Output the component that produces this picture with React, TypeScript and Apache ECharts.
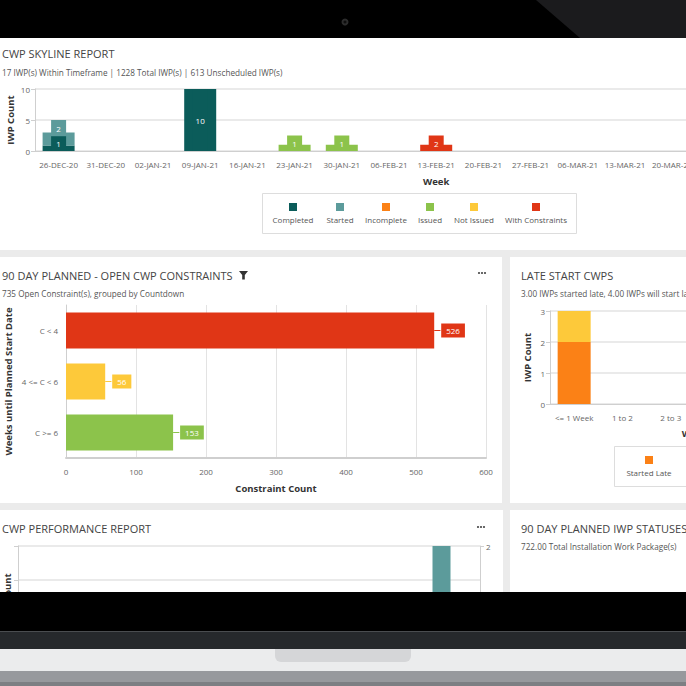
import React, { useEffect, useRef } from "react";
import * as echarts from "echarts";

// ---------- data ----------
const weeks = [
  "26-DEC-20", "31-DEC-20", "02-JAN-21", "09-JAN-21", "16-JAN-21", "23-JAN-21",
  "30-JAN-21", "06-FEB-21", "13-FEB-21", "20-FEB-21", "27-FEB-21", "06-MAR-21",
  "13-MAR-21", "20-MAR-21", "27-MAR-21", "03-APR-21", "10-APR-21",
];
const statusNames = ["Completed", "Started", "Incomplete", "Issued", "Not Issued", "With Constraints"];
const statusColors = ["#0b5c5a", "#5c9b9b", "#fb8116", "#8cc34b", "#fdc93a", "#e03616"];

// IWP counts shown as labels
const completedCount = [1, 0, 0, 10, 0, 0, 0, 0, 0, 0, 0, 0, 0, 0, 0, 0, 0];
const startedCount = [2, 0, 0, 0, 0, 0, 0, 0, 0, 0, 0, 0, 0, 0, 0, 0, 0];
const incompleteCount = [0, 0, 0, 0, 0, 0, 0, 0, 0, 0, 0, 0, 0, 0, 0, 0, 0];
const issuedCount = [0, 0, 0, 0, 0, 1, 1, 0, 0, 0, 0, 0, 0, 0, 0, 0, 0];
const notIssuedCount = [0, 0, 0, 0, 0, 0, 0, 0, 0, 0, 0, 0, 0, 0, 0, 0, 0];
const constraintsCount = [0, 0, 0, 0, 0, 0, 0, 0, 2, 0, 0, 0, 0, 0, 0, 0, 0];

// skyline heights: wide (outer) and narrow (inner) blocks
const completedOuter = [0.9, 0, 0, 10, 0, 0, 0, 0, 0, 0, 0, 0, 0, 0, 0, 0, 0];
const completedInner = [2.4, 0, 0, 10, 0, 0, 0, 0, 0, 0, 0, 0, 0, 0, 0, 0, 0];
const startedOuter = [2.1, 0, 0, 0, 0, 0, 0, 0, 0, 0, 0, 0, 0, 0, 0, 0, 0];
const startedInner = [2.6, 0, 0, 0, 0, 0, 0, 0, 0, 0, 0, 0, 0, 0, 0, 0, 0];
const incompleteOuter = [0, 0, 0, 0, 0, 0, 0, 0, 0, 0, 0, 0, 0, 0, 0, 0, 0];
const incompleteInner = [0, 0, 0, 0, 0, 0, 0, 0, 0, 0, 0, 0, 0, 0, 0, 0, 0];
const issuedOuter = [0, 0, 0, 0, 0, 1, 1, 0, 0, 0, 0, 0, 0, 0, 0, 0, 0];
const issuedInner = [0, 0, 0, 0, 0, 2.5, 2.5, 0, 0, 0, 0, 0, 0, 0, 0, 0, 0];
const notIssuedOuter = [0, 0, 0, 0, 0, 0, 0, 0, 0, 0, 0, 0, 0, 0, 0, 0, 0];
const notIssuedInner = [0, 0, 0, 0, 0, 0, 0, 0, 0, 0, 0, 0, 0, 0, 0, 0, 0];
const constraintsOuter = [0, 0, 0, 0, 0, 0, 0, 0, 1, 0, 0, 0, 0, 0, 0, 0, 0];
const constraintsInner = [0, 0, 0, 0, 0, 0, 0, 0, 2.5, 0, 0, 0, 0, 0, 0, 0, 0];

const skylineTicks = [0, 5, 10];

const constraintCats = ["C < 4", "4 <= C < 6", "C >= 6"];
const constraintValues = [526, 56, 153];
const constraintColors = ["#e03616", "#fdc93a", "#8cc34b"];

const lateCats = ["<= 1 Week", "1 to 2", "2 to 3", "3 to 4", "4 to 5", "5 to 6"];
const startedLate = [2, 0, 0, 0, 0, 0];
const willStartLate = [1, 0, 0, 0, 0, 0];
const lateNames = ["Started Late", "Will Start Late"];
const lateColors = ["#fb8116", "#fdc93a"];

const perfCats = ["P1", "P2", "P3", "P4", "P5", "P6"];
const perfValues = [0, 0, 0, 0, 0, 2];

const FONT = '"Open Sans", "Noto Sans", sans-serif';
const AXIS_LABEL = { fontSize: 8, color: "#666", fontFamily: FONT };
const AXIS_NAME = { fontSize: 9.5, color: "#333", fontWeight: "bold", fontFamily: FONT };
const LINE = { lineStyle: { color: "#cfcfcf" } };

function txt(text: string, x: number, y: number, size: number, color: string, extra: any = {}) {
  return {
    type: "text",
    z: 5,
    style: {
      text, x, y, fill: color, fontSize: size, fontFamily: FONT,
      textVerticalAlign: "middle", textAlign: "left", ...extra,
    },
  };
}

export default function App() {
  const ref = useRef<HTMLDivElement>(null);
  useEffect(() => {
    if (!ref.current) return;
    const chart = echarts.init(ref.current, null, { renderer: "svg" });

    const outer = [completedOuter, startedOuter, incompleteOuter, issuedOuter, notIssuedOuter, constraintsOuter];
    const inner = [completedInner, startedInner, incompleteInner, issuedInner, notIssuedInner, constraintsInner];
    const counts = [completedCount, startedCount, incompleteCount, issuedCount, notIssuedCount, constraintsCount];

    const series: any[] = [];
    statusNames.forEach((n, i) => {
      series.push({
        name: n, type: "bar", xAxisIndex: 0, yAxisIndex: 0, stack: "outer",
        barWidth: 32, data: outer[i], itemStyle: { color: statusColors[i] }, z: 2,
      });
    });
    statusNames.forEach((n, i) => {
      series.push({
        name: n, type: "bar", xAxisIndex: 1, yAxisIndex: 0, stack: "inner",
        barWidth: 15, data: inner[i], itemStyle: { color: statusColors[i] }, z: 3,
        label: {
          show: true, position: "inside", color: "#fff", fontSize: 8, fontFamily: FONT,
          formatter: (p: any) => (counts[i][p.dataIndex] ? String(counts[i][p.dataIndex]) : ""),
        },
      });
    });

    series.push({
      type: "bar", xAxisIndex: 2, yAxisIndex: 1, barWidth: 36,
      data: constraintValues.map((v, i) => ({
        value: v,
        itemStyle: { color: constraintColors[i] },
        label: {
          rich: {
            l: { width: 7, height: 1, backgroundColor: constraintColors[i], fontSize: 1 },
            b: {
              backgroundColor: constraintColors[i], color: "#fff", fontSize: 8, fontFamily: FONT,
              padding: [3, 5, 3, 5], borderColor: "rgba(255,255,255,0.7)", borderWidth: 1,
            },
          },
        },
      })),
      label: {
        show: true, position: "right", distance: 0,
        formatter: (p: any) => `{l| }{b|${p.value}}`,
      },
    });

    series.push({
      name: lateNames[0], type: "bar", xAxisIndex: 3, yAxisIndex: 2, stack: "late",
      barWidth: 33, data: startedLate, itemStyle: { color: lateColors[0] },
    });
    series.push({
      name: lateNames[1], type: "bar", xAxisIndex: 3, yAxisIndex: 2, stack: "late",
      barWidth: 33, data: willStartLate, itemStyle: { color: lateColors[1] },
    });

    series.push({
      type: "bar", xAxisIndex: 4, yAxisIndex: 4, barWidth: 18,
      data: perfValues, itemStyle: { color: "#5c9b9b" },
    });

    // graphics
    const panels = [
      [0, 38, 686, 212],
      [0, 257, 502, 246],
      [510, 257, 176, 246],
      [0, 510, 503, 100],
      [510, 510, 176, 100],
    ];
    const graphic: any[] = panels.map((p) => ({
      type: "rect", z: -10, shape: { x: p[0], y: p[1], width: p[2], height: p[3] },
      style: { fill: "#ffffff" },
    }));

    // skyline legend
    const legendX = [293, 340, 386, 430, 474, 536];
    graphic.push({
      type: "rect", z: 5, shape: { x: 262.5, y: 193.5, width: 314, height: 40 },
      style: { fill: "#fff", stroke: "#dddddd", lineWidth: 1 },
    });
    statusNames.forEach((n, i) => {
      graphic.push({
        type: "rect", z: 6, shape: { x: legendX[i] - 4, y: 203, width: 8, height: 8 },
        style: { fill: statusColors[i] },
      });
      graphic.push(txt(n, legendX[i], 219.5, 8, "#555", { textAlign: "center" }));
    });

    // late start legend
    const lateLegendX = [649, 712];
    graphic.push({
      type: "rect", z: 5, shape: { x: 614.5, y: 446.5, width: 200, height: 40 },
      style: { fill: "#fff", stroke: "#dddddd", lineWidth: 1 },
    });
    lateNames.forEach((n, i) => {
      graphic.push({
        type: "rect", z: 6, shape: { x: lateLegendX[i] - 4, y: 456, width: 8, height: 8 },
        style: { fill: lateColors[i] },
      });
      graphic.push(txt(n, lateLegendX[i], 472, 8, "#555", { textAlign: "center" }));
    });

    // titles
    graphic.push(txt("CWP SKYLINE REPORT", 2, 53.5, 11, "#444"));
    graphic.push(txt("17 IWP(s) Within Timeframe | 1228 Total IWP(s) | 613 Unscheduled IWP(s)", 2, 72.5, 8.2, "#555"));
    graphic.push(txt("90 DAY PLANNED - OPEN CWP CONSTRAINTS", 2, 275, 11, "#444"));
    graphic.push({
      type: "polygon", z: 6,
      shape: { points: [[239, 271], [248, 271], [244.8, 275], [244.8, 279.5], [242.2, 279.5], [242.2, 275]] },
      style: { fill: "#333" },
    });
    graphic.push(txt("735 Open Constraint(s), grouped by Countdown", 2, 293, 8.2, "#555"));
    graphic.push(txt("LATE START CWPS", 521, 275, 11, "#444"));
    graphic.push(txt("3.00 IWPs started late, 4.00 IWPs will start late in the next weeks", 521, 293, 8.2, "#555"));
    graphic.push(txt("CWP PERFORMANCE REPORT", 2, 528, 11, "#444"));
    graphic.push(txt("90 DAY PLANNED IWP STATUSES", 521, 528, 11, "#444"));
    graphic.push(txt("722.00 Total Installation Work Package(s)", 521, 546.5, 8.2, "#555"));
    [[482, 273], [481, 527]].forEach(([cx, cy]) => {
      [-3, 0, 3].forEach((d) => {
        graphic.push({ type: "circle", z: 6, shape: { cx: cx + d, cy, r: 1.1 }, style: { fill: "#555" } });
      });
    });

    // laptop bezel
    graphic.push({ type: "rect", z: 100, shape: { x: 0, y: 0, width: 686, height: 38 }, style: { fill: "#000" } });
    graphic.push({
      type: "polygon", z: 101,
      shape: { points: [[536, 0], [686, 0], [686, 38], [580, 38]] },
      style: { fill: "#1b1b1d" },
    });
    graphic.push({ type: "circle", z: 102, shape: { cx: 345, cy: 22, r: 3.5 }, style: { fill: "#2c2c2c" } });
    graphic.push({ type: "circle", z: 103, shape: { cx: 345, cy: 22, r: 1.5 }, style: { fill: "#0e0e0e" } });
    graphic.push({ type: "rect", z: 100, shape: { x: 0, y: 592, width: 686, height: 39 }, style: { fill: "#000" } });
    graphic.push({ type: "rect", z: 100, shape: { x: 0, y: 631, width: 686, height: 18 }, style: { fill: "#26292c" } });
    graphic.push({ type: "rect", z: 101, shape: { x: 0, y: 631, width: 686, height: 1 }, style: { fill: "#4a4d50" } });
    graphic.push({ type: "rect", z: 100, shape: { x: 0, y: 649, width: 686, height: 22 }, style: { fill: "#ebeced" } });
    graphic.push({
      type: "rect", z: 101, shape: { x: 275, y: 649, width: 136, height: 13, r: [0, 0, 6, 6] },
      style: { fill: "#d5d6d8" },
    });
    graphic.push({ type: "rect", z: 100, shape: { x: 0, y: 671, width: 686, height: 15 }, style: { fill: "#97999d" } });
    graphic.push({ type: "rect", z: 101, shape: { x: 0, y: 682, width: 686, height: 4 }, style: { fill: "#7d7f83" } });

    const G = { outerBoundsMode: "none", containLabel: false };
    const N = { nameLocation: "middle", nameMoveOverlap: false, nameTextStyle: AXIS_NAME };
    const option: any = {
      animation: false,
      textStyle: { fontFamily: FONT },
      grid: [
        { ...G, left: 35, top: 89, width: weeks.length * 47.2, height: 62 },
        { ...G, left: 66, top: 305, width: 420, height: 153 },
        { ...G, left: 550, top: 311, width: lateCats.length * 48.3, height: 93 },
        { ...G, left: 18, top: 546, width: 462, height: 136 },
      ],
      xAxis: [
        {
          type: "category", gridIndex: 0, data: weeks,
          axisLine: LINE, axisTick: { lineStyle: { color: "#cfcfcf" }, length: 4 },
          axisLabel: { ...AXIS_LABEL, interval: 0, margin: 9 },
          name: "Week", ...N, nameGap: 25,
        },
        { type: "category", gridIndex: 0, data: weeks, show: false },
        {
          type: "value", gridIndex: 1, min: 0, max: 600, interval: 100,
          axisLine: { show: true, lineStyle: { color: "#cfcfcf", width: 2 } },
          axisTick: { show: false },
          splitLine: { lineStyle: { color: "#e3e3e3" } },
          axisLabel: { ...AXIS_LABEL, margin: 9 },
          name: "Constraint Count", ...N, nameGap: 25,
        },
        {
          type: "category", gridIndex: 2, data: lateCats,
          axisLine: LINE, axisTick: { lineStyle: { color: "#cfcfcf" }, length: 4 },
          axisLabel: { ...AXIS_LABEL, interval: 0, margin: 9 },
          name: "Week", ...N, nameGap: 24,
        },
        {
          type: "category", gridIndex: 3, data: perfCats,
          axisLine: LINE, axisTick: { show: false }, axisLabel: { show: false },
        },
      ],
      yAxis: [
        {
          type: "value", gridIndex: 0, min: skylineTicks[0], max: skylineTicks[2], interval: skylineTicks[1],
          axisLine: { show: true, lineStyle: { color: "#cfcfcf" } },
          axisTick: { show: true, length: 4, lineStyle: { color: "#cfcfcf" } },
          splitLine: { lineStyle: { color: "#e3e3e3", width: 1.5 } },
          axisLabel: { ...AXIS_LABEL, margin: 5 },
          name: "IWP Count", ...N, nameGap: 20,
        },
        {
          type: "category", gridIndex: 1, data: constraintCats, inverse: true,
          axisLine: LINE, axisTick: { length: 4, lineStyle: { color: "#cfcfcf" } },
          axisLabel: { ...AXIS_LABEL, margin: 8 },
          name: "Weeks until Planned Start Date", ...N, nameGap: 53,
        },
        {
          type: "value", gridIndex: 2, min: 0, max: 3, interval: 1,
          axisLine: { show: true, lineStyle: { color: "#cfcfcf" } },
          axisTick: { show: true, length: 4, lineStyle: { color: "#cfcfcf" } },
          splitLine: { lineStyle: { color: "#e3e3e3", width: 1.5 } },
          axisLabel: { ...AXIS_LABEL, margin: 5 },
          name: "IWP Count", ...N, nameGap: 18,
        },
        {
          type: "value", gridIndex: 3, min: 0, max: 4, interval: 1, position: "left",
          axisLine: { show: true, lineStyle: { color: "#cfcfcf" } },
          axisTick: { show: true, length: 4, lineStyle: { color: "#cfcfcf" } },
          splitLine: { lineStyle: { color: "#e3e3e3", width: 1.5 } },
          axisLabel: { show: false },
          name: "Constraint Count", ...N, nameGap: 6,
        },
        {
          type: "value", gridIndex: 3, min: 0, max: 2, interval: 1, position: "right",
          axisLine: { show: true, lineStyle: { color: "#cfcfcf" } },
          axisTick: { show: true, length: 4, lineStyle: { color: "#cfcfcf" } },
          splitLine: { show: false },
          axisLabel: { ...AXIS_LABEL, margin: 6 },
        },
      ],
      series,
      graphic,
    };
    chart.setOption(option);
    return () => chart.dispose();
  }, []);
  return (
    <div
      ref={ref}
      style={{ position: "fixed", left: 0, top: 0, width: 686, height: 686, background: "#ebebeb" }}
    />
  );
}
